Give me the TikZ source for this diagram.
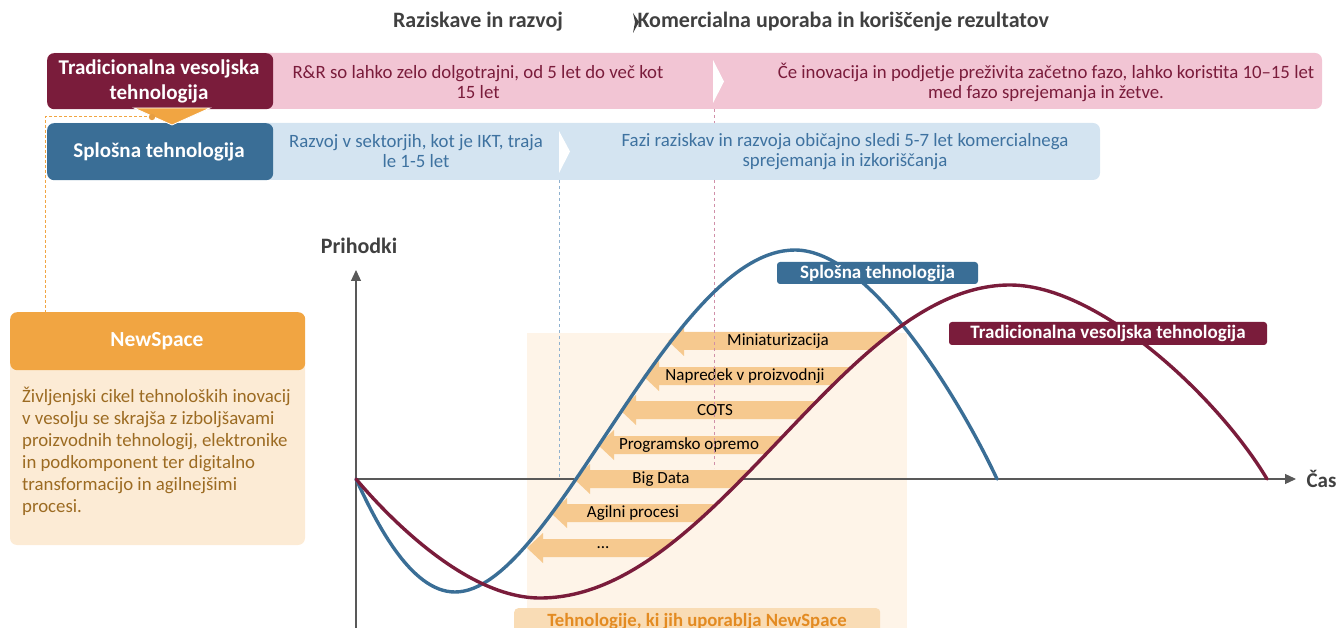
\documentclass[tikz,border=0pt]{standalone}
\usepackage{fontspec}
\setmainfont{Carlito}
\usetikzlibrary{arrows.meta}
\definecolor{cMaroon}{HTML}{7A1C3B}
\definecolor{cPink}{HTML}{F2C5D4}
\definecolor{cBlue}{HTML}{3A6E96}
\definecolor{cLBlue}{HTML}{D4E4F1}
\definecolor{cBlueTxt}{HTML}{3E72A0}
\definecolor{cOrange}{HTML}{F1A542}
\definecolor{cLOrange}{HTML}{FCEBD5}
\definecolor{cBrown}{HTML}{9C6B22}
\definecolor{cArrow}{HTML}{F6C98F}
\definecolor{cBg}{HTML}{FEF4E8}
\definecolor{cTag}{HTML}{F9DCB5}
\definecolor{cTagTxt}{HTML}{E38B22}
\definecolor{cAxis}{HTML}{595959}
\definecolor{cGray}{HTML}{404040}
\definecolor{cPinkDash}{HTML}{D08FA8}
\definecolor{cBlueDash}{HTML}{8FB1CF}
\newcommand\techarrow[5]{%
  \fill[cArrow] (#1,#2) -- (#1+16,#2-15) -- (#1+16,#2-9) -- (980,#2-9) -- (980,#2+9) -- (#1+16,#2+9) -- (#1+16,#2+15) -- cycle;
  \node[arrtxt] (#5) at (#3,#2) {#4};
}
\newcommand\redpath{(356,479) .. controls (395,525) and (470,598) .. (540,598) .. controls (716,598) and (842,285) .. (1010,285) .. controls (1100,285) and (1220,400) .. (1267,479)}
\newcommand\bluepath{(356,479) .. controls (375,520) and (410,592) .. (455,592) .. controls (553.5,592) and (669.5,250) .. (795,250) .. controls (870,250) and (960,400) .. (997,479)}
\begin{document}
\begin{tikzpicture}[x=1pt,y=-1pt,
  box/.style={inner sep=0pt, rounded corners=7pt},
  hdr/.style={font=\bfseries\fontsize{22}{24}\selectfont, text=cGray},
  bandtxt/.style={font=\fontsize{18.8}{20}\selectfont, align=center},
  boxtitle/.style={font=\bfseries\fontsize{21}{24.5}\selectfont, text=white, align=center},
  arrtxt/.style={font=\fontsize{17}{18}\selectfont, text=black},
  lbl/.style={inner sep=0pt, rounded corners=3pt, font=\bfseries\fontsize{19}{20}\selectfont, text=white},
  curve/.style={line width=3.4pt, line cap=round},
  axis/.style={draw=cAxis, line width=1.2pt},
]
\useasboundingbox (0,0) rectangle (1339,628);

% header
\node[hdr] (rr) at (478,22) {Raziskave in razvoj};
\fill[cGray] (633,13) -- (639,22) -- (633,33) -- (635,22) -- cycle;
\node[hdr, anchor=west] (kom) at (634,22) {Komercialna uporaba in koriščenje rezultatov};

% pink band
\path[box, fill=cPink] (47,53) rectangle (1322,109);
\node[box, fill=cMaroon, minimum width=226pt, minimum height=56pt, anchor=north west] (trad) at (47,53) {};
\node[boxtitle] (tradtxt) at (159,81.5) {Tradicionalna vesoljska\\tehnologija};
\fill[white] (713,60) -- (724,81.5) -- (713,103) -- cycle;
\node[bandtxt, text=cMaroon] (pt1) at (478,82) {R\&R so lahko zelo dolgotrajni, od 5 let do več kot\\15 let};
\node[bandtxt, text=cMaroon] (pt2) at (1046,82) {Če inovacija in podjetje preživita začetno fazo, lahko koristita 10–15 let\\med fazo sprejemanja in žetve.};

% blue band
\path[box, fill=cLBlue] (47,123) rectangle (1100,180);
\node[box, fill=cBlue, minimum width=226pt, minimum height=57pt, anchor=north west] (gen) at (47,123) {};
\node[boxtitle] (gentxt) at (159,151.5) {Splošna tehnologija};
\fill[white] (559,131) -- (570,151.5) -- (559,173) -- cycle;
\node[bandtxt, text=cBlueTxt] (bt1) at (416,151.5) {Razvoj v sektorjih, kot je IKT, traja\\le 1-5 let};
\node[bandtxt, text=cBlueTxt] (bt2) at (845,151.5) {Fazi raziskav in razvoja običajno sledi 5-7 let komercialnega\\sprejemanja in izkoriščanja};

% NewSpace box
\path[box, fill=cLOrange] (10,355) rectangle (305,545);
\node[box, fill=cOrange, minimum width=295pt, minimum height=58pt, anchor=north west] (ns) at (10,312) {};
\node[font=\bfseries\fontsize{21.5}{24}\selectfont, text=white] (nstxt) at (157,341) {NewSpace};
\node[anchor=north west, inner sep=0pt, align=left, text=cBrown, font=\fontsize{18.8}{22}\selectfont] (nsbody) at (22,387)
  {Življenjski cikel tehnoloških inovacij\\v vesolju se skrajša z izboljšavami\\proizvodnih tehnologij, elektronike\\in podkomponent ter digitalno\\transformacijo in agilnejšimi\\procesi.};

% connector triangle + dashed
\filldraw[fill=cOrange, draw=white, line width=0.8pt] (134,108) -- (210,108) -- (172,125) -- cycle;
\coordinate (dot) at (152,117);
\coordinate (bend) at (45,117);
\draw[cOrange, dashed, line width=1pt, dash pattern=on 3pt off 2pt] (dot) -- (bend) -- (45,312);
\fill[cOrange!80!brown] (dot) circle (3.2);

% background of technologies
\fill[cBg] (527,333) rectangle (907,628);
\node[inner sep=0pt, fill=cTag, rounded corners=4pt, minimum width=366pt, minimum height=34pt, anchor=north west] (tag) at (514,608) {};
\node[font=\bfseries\fontsize{18.7}{20}\selectfont, text=cTagTxt, anchor=base] (tagtxt) at (697,626) {Tehnologije, ki jih uporablja NewSpace};

% axes
\coordinate (O) at (356,479);
\coordinate (ytop) at (356,270);
\coordinate (ybot) at (356,628);
\coordinate (xend) at (1296,479);
\draw[axis, -{Triangle[width=10pt,length=11pt]}, cAxis] (ybot) -- (ytop);
\draw[axis, -{Triangle[width=10pt,length=11pt]}, cAxis] (O) -- (xend);
\node[font=\bfseries\fontsize{22}{24}\selectfont, text=cGray] (prih) at (359,246) {Prihodki};
\node[font=\bfseries\fontsize{21}{24}\selectfont, text=cGray, anchor=west] (cas) at (1303,479) {Čas};

% arrows clipped by red curve
\begin{scope}
\clip \redpath -- (1267,230) -- (300,230) -- (300,479) -- cycle;
\techarrow{668}{341}{778}{Miniaturizacija}{a1}
\techarrow{643}{376}{745}{Napredek v proizvodnji}{a2}
\techarrow{620}{410}{715}{COTS}{a3}
\techarrow{598}{445}{689}{Programsko opremo}{a4}
\techarrow{574}{479}{661}{Big Data}{a5}
\techarrow{551}{513}{633}{Agilni procesi}{a6}
\techarrow{527}{548}{603}{...}{a7}
\end{scope}

% dashed phase lines
\draw[cPinkDash, dashed, line width=0.8pt] (714,109) -- (714,123);
\draw[cPinkDash, dashed, line width=0.8pt] (714,180) -- (714,468);
\draw[cBlueDash, dashed, line width=0.8pt] (559,180) -- (559,479);

% curves
\draw[curve, cBlue] \bluepath;
\draw[curve, cMaroon] \redpath;

% curve labels
\node[lbl, fill=cBlue, minimum width=201pt, minimum height=22pt] (lblue) at (877.5,273) {Splošna tehnologija};
\node[lbl, fill=cMaroon, minimum width=318pt, minimum height=23pt] (lred) at (1108,333.5) {Tradicionalna vesoljska tehnologija};
\end{tikzpicture}
\end{document}
